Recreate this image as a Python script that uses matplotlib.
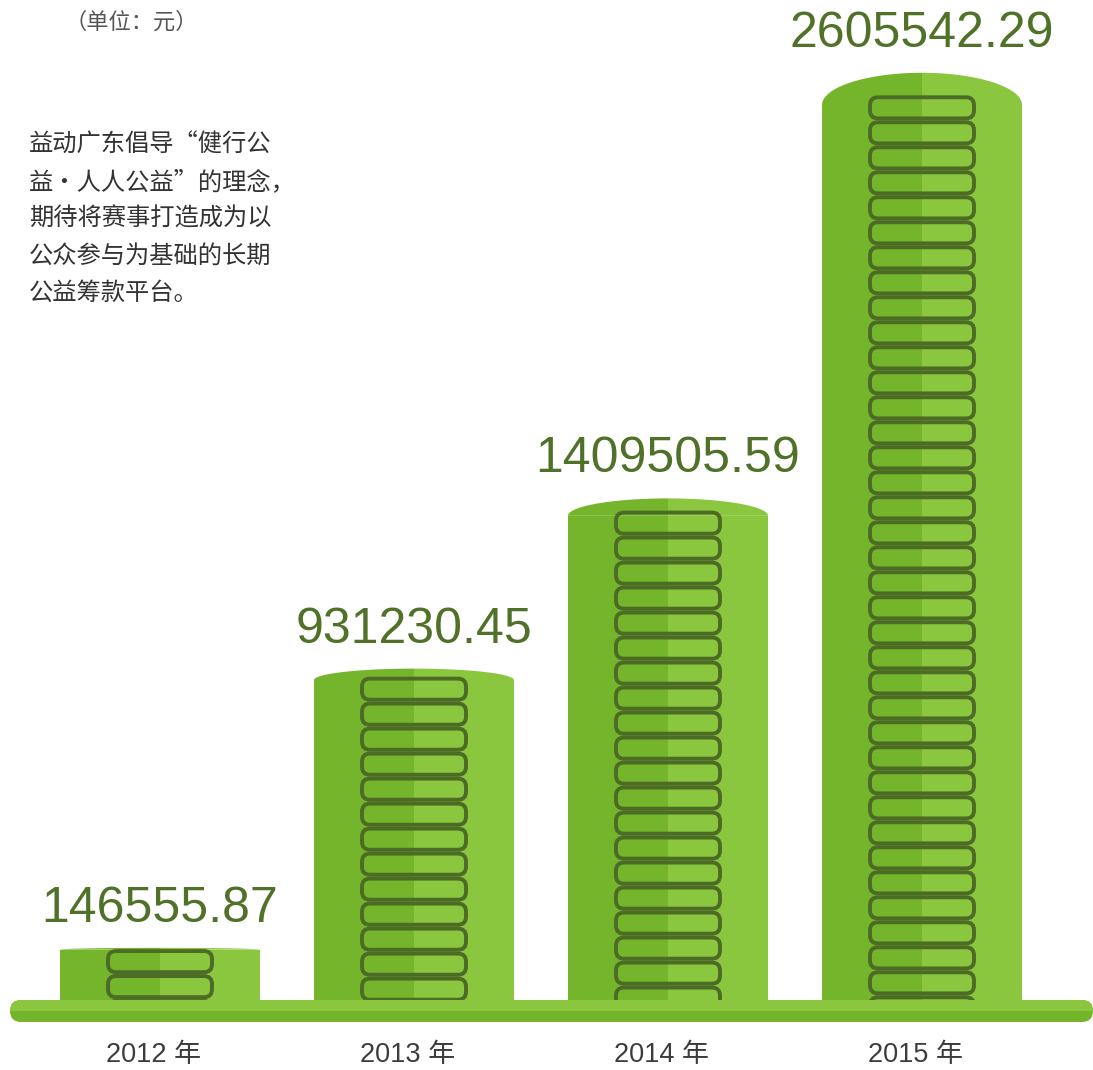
import numpy as np
import matplotlib.pyplot as plt
from matplotlib.patches import FancyBboxPatch, Polygon, Rectangle

# donations raised per year (yuan)
years = ["2012 年", "2013 年", "2014 年", "2015 年"]
amounts = [146555.87, 931230.45, 1409505.59, 2605542.29]

intro_lines = ["益动广东倡导“健行公",
               "益·人人公益”的理念，",
               "期待将赛事打造成为以",
               "公众参与为基础的长期",
               "公益筹款平台。"]
unit_note = "（单位：元）"

DARK = "#74b52c"
LIGHT = "#8bc63f"
COIN = "#4c6b25"
LABEL = "#4f7128"

W, H = 1093, 1070
fig = plt.figure(figsize=(W / 100, H / 100), dpi=100)
ax = fig.add_axes([0, 0, 1, 1])
ax.axis("off")

# axis ranges: categories 254px apart, baseline 70px above the bottom edge
px_per_val = 895 / max(amounts)
xlim = (-160 / 254, (W - 160) / 254)
ylim = (-70 / px_per_val, (H - 70) / px_per_val)
ax.set_xlim(*xlim)
ax.set_ylim(*ylim)
ux = (xlim[1] - xlim[0]) / W      # x units per pixel
uy = (ylim[1] - ylim[0]) / H      # y units per pixel
aspect = uy / ux

bar_w = 200 * ux
coin_w = 104 * ux
coin_pitch = 25 * uy
coin_lw = 2.8
x = np.arange(len(amounts))

# cylinder body, split in a shaded and a lit half
ax.bar(x - bar_w / 2, amounts, width=bar_w / 2, align="edge", color=DARK, zorder=2)
ax.bar(x, amounts, width=bar_w / 2, align="edge", color=LIGHT, zorder=2)

for xi, v in zip(x, amounts):
    cap = 0.036 * v
    # elliptical top of the cylinder
    t = np.linspace(np.pi / 2, np.pi, 40)
    left = np.column_stack([xi + bar_w / 2 * np.cos(t), v + cap * np.sin(t)])
    ax.add_patch(Polygon(np.vstack([left, [[xi, v]]]), closed=True,
                         color=DARK, lw=0, zorder=2))
    t = np.linspace(0, np.pi / 2, 40)
    right = np.column_stack([xi + bar_w / 2 * np.cos(t), v + cap * np.sin(t)])
    ax.add_patch(Polygon(np.vstack([right, [[xi, v]]]), closed=True,
                         color=LIGHT, lw=0, zorder=2))

    # stack of coins drawn down to the ground line
    clip = Rectangle((xi - bar_w / 2, 0), bar_w, v + cap,
                     transform=ax.transData)
    top = v + 0.3 * cap
    inner = coin_pitch - 3.9 * uy
    while top > 0:
        coin = FancyBboxPatch((xi - coin_w / 2, top - coin_pitch + 1.95 * uy),
                              coin_w, inner,
                              boxstyle="round,pad=0,rounding_size=%f" % (8 * ux),
                              mutation_aspect=aspect,
                              fc="none", ec=COIN, lw=coin_lw, zorder=3)
        ax.add_patch(coin)
        coin.set_clip_path(clip)
        top -= coin_pitch

    ax.text(xi, v + cap + 16 * uy, "%.2f" % v, ha="center", va="bottom",
            fontsize=36, color=LABEL, family="Liberation Sans", zorder=5)

# ground strip under the cylinders
g_x0 = xlim[0] + 10 * ux
g_w = 1083 * ux
g_h = 22 * uy
ground_style = "round,pad=0,rounding_size=%f" % (11 * ux)
ax.add_patch(FancyBboxPatch((g_x0, -g_h), g_w, g_h, boxstyle=ground_style,
                            mutation_aspect=aspect, fc=DARK, ec="none", zorder=4))
lit = FancyBboxPatch((g_x0, -g_h), g_w, g_h, boxstyle=ground_style,
                     mutation_aspect=aspect, fc=LIGHT, ec="none", zorder=4)
ax.add_patch(lit)
lit.set_clip_path(Rectangle((g_x0, -g_h / 2), g_w, g_h / 2, transform=ax.transData))

for xi, yr in zip(x, years):
    ax.text(xi - 6 * ux, -55 * uy, yr, ha="center", va="center", fontsize=19.5,
            color="#3c3c3c", family=["Liberation Sans", "Noto Sans CJK SC"])

# notes in the upper left
fig.text(64 / W, 1 - 22 / H, unit_note, ha="left", va="center", fontsize=16,
         color="#555555", family="Noto Sans CJK SC")
for i, line in enumerate(intro_lines):
    fig.text(29 / W, 1 - (145 + 37 * i) / H, line, ha="left", va="center",
             fontsize=17.5, color="#333333", family="Noto Sans CJK SC")

fig.savefig("out.png", dpi=100)
